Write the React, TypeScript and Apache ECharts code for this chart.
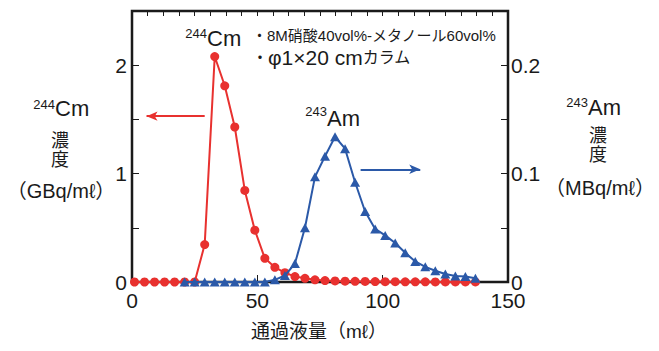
import React, { useEffect, useRef } from "react";
import * as echarts from "echarts";

// 通過液量 (mℓ)
const volume = [1, 5, 9, 13, 17, 21, 25, 29, 33, 37, 41, 45, 49, 53, 57, 61, 65, 69, 73, 77, 81, 85, 89, 93, 97, 101, 105, 109, 113, 117, 121, 125, 129, 133, 137];
// 244Cm 濃度 (GBq/mℓ)
const cm244 = [0, 0, 0, 0, 0, 0, 0, 0.345, 2.08, 1.81, 1.43, 0.845, 0.478, 0.218, 0.135, 0.086, 0.05, 0.034, 0.02, 0.013, 0.01, 0.008, 0.006, 0.005, 0.004, 0.003, 0.003, 0.002, 0.002, 0.002, 0.001, 0.001, 0.001, 0.001, 0.001];
// 243Am 濃度 (MBq/mℓ)
const am243 = [null, null, null, null, null, 0, 0, 0, 0, 0, 0, 0, 0, 0, 0.002, 0.006, 0.017, 0.05, 0.097, 0.116, 0.134, 0.123, 0.092, 0.065, 0.049, 0.043, 0.036, 0.027, 0.019, 0.014, 0.0104, 0.0074, 0.0055, 0.005, 0.0035];

const xTicks = { min: 0, max: 150, interval: 50 };
const leftTicks = { min: 0, max: 2.5, interval: 0.5 };
const rightTicks = { min: 0, max: 0.25, interval: 0.05 };

const RED = "#e8312f";
const BLUE = "#2b59a8";
const INK = "#1a1a1a";
const LATIN = "'Liberation Sans', Arial, 'Noto Sans CJK JP', sans-serif";
const JP = "'Liberation Sans', 'Noto Sans CJK JP', sans-serif";

const GRID = { left: 132, right: 151, top: 11, bottom: 69 };
const W = 659;
const H = 351;

export default function App() {
  const ref = useRef<HTMLDivElement>(null);
  useEffect(() => {
    if (!ref.current) return;
    const chart = echarts.init(ref.current, undefined, { renderer: "svg" });
    const red = volume.map((v, i) => [v, cm244[i]]);
    const blue = volume.map((v, i) => [v, am243[i]]).filter((p) => p[1] !== null);

    const txt = (text: string, x: number, y: number, size: number, align: string, family = LATIN) => ({
      type: "text",
      x,
      y,
      style: { text, fontSize: size, fontFamily: family, fill: INK, textAlign: align, textVerticalAlign: "middle" },
      silent: true,
    });

    const line = () => ({ show: true, onZero: false, lineStyle: { color: INK, width: 2 } });
    const tick = (len: number) => ({ show: true, inside: true, length: len, lineStyle: { color: INK, width: 1 } });

    chart.setOption({
      animation: false,
      grid: { ...GRID, containLabel: false },
      xAxis: [
        {
          type: "value",
          position: "bottom",
          min: xTicks.min,
          max: xTicks.max,
          interval: xTicks.interval,
          axisLine: line(),
          axisTick: tick(7),
          axisLabel: { fontSize: 21, color: INK, fontFamily: LATIN, margin: 8 },
          splitLine: { show: false },
        },
        {
          type: "value",
          position: "top",
          min: 0,
          max: 150,
          interval: 6.25,
          axisLine: line(),
          axisTick: tick(5),
          axisLabel: { show: false },
          splitLine: { show: false },
        },
      ],
      yAxis: [
        {
          type: "value",
          position: "left",
          min: leftTicks.min,
          max: leftTicks.max,
          interval: leftTicks.interval,
          axisLine: line(),
          axisTick: tick(7),
          axisLabel: {
            fontSize: 21,
            color: INK,
            fontFamily: LATIN,
            margin: 5,
            formatter: (v: number) => (Math.abs(v - Math.round(v)) < 1e-9 ? String(Math.round(v)) : ""),
          },
          splitLine: { show: false },
        },
        {
          type: "value",
          position: "right",
          min: rightTicks.min,
          max: rightTicks.max,
          interval: rightTicks.interval,
          axisLine: line(),
          axisTick: tick(7),
          axisLabel: {
            fontSize: 21,
            color: INK,
            fontFamily: LATIN,
            margin: 3,
            formatter: (v: number) => {
              const t = v * 10;
              if (Math.abs(t - Math.round(t)) > 1e-9) return "";
              return v === 0 ? "0" : v.toFixed(1);
            },
          },
          splitLine: { show: false },
        },
      ],
      series: [
        {
          type: "line",
          xAxisIndex: 0,
          yAxisIndex: 0,
          data: red,
          symbol: "circle",
          symbolSize: 9,
          lineStyle: { color: RED, width: 2 },
          itemStyle: { color: RED },
          z: 2,
          markLine: {
            silent: true,
            symbol: ["none", "arrow"],
            symbolSize: [7, 11],
            label: { show: false },
            lineStyle: { color: RED, width: 2, type: "solid" },
            data: [[{ coord: [29, 1.53] }, { coord: [5.8, 1.53] }]],
          },
        },
        {
          type: "line",
          xAxisIndex: 0,
          yAxisIndex: 1,
          data: blue,
          symbol: "triangle",
          symbolSize: [10, 9],
          lineStyle: { color: BLUE, width: 2 },
          itemStyle: { color: BLUE },
          z: 3,
          markLine: {
            silent: true,
            symbol: ["none", "arrow"],
            symbolSize: [7, 11],
            label: { show: false },
            lineStyle: { color: BLUE, width: 2, type: "solid" },
            data: [[{ coord: [91.2, 0.104] }, { coord: [115, 0.104] }]],
          },
        },
      ],
      graphic: [
        // plot frame
        {
          type: "rect",
          silent: true,
          z: -1,
          shape: {
            x: GRID.left,
            y: GRID.top,
            width: W - GRID.left - GRID.right,
            height: H - GRID.top - GRID.bottom,
          },
          style: { fill: "none", stroke: "#111111", lineWidth: 2.5 },
        },
        // in-plot labels
        txt("244", 207, 33, 13, "right"),
        txt("Cm", 207, 38.5, 22, "left"),
        txt("243", 327, 111, 13, "right"),
        txt("Am", 327, 118.5, 22, "left"),
        // conditions
        {
          type: "text",
          x: 252,
          y: 35,
          style: {
            text: "・8M硝酸40vol%-メタノール60vol%",
            fontSize: 15,
            fontFamily: JP,
            fill: INK,
            textAlign: "left",
            textVerticalAlign: "middle",
          },
        },
        {
          type: "text",
          x: 252,
          y: 57,
          style: {
            text: "{a|・}{b|φ1×20 cm}{a|カラム}",
            fontFamily: JP,
            fill: INK,
            textAlign: "left",
            textVerticalAlign: "middle",
            rich: {
              a: { fontSize: 16, fontFamily: JP, fill: INK },
              b: { fontSize: 21, fontFamily: JP, fill: INK },
            },
          },
        },
        // left axis title
        txt("244", 55, 104, 13, "right"),
        txt("Cm", 55, 108.5, 22, "left"),
        txt("濃", 60, 141, 18, "center", JP),
        txt("度", 60, 160, 18, "center", JP),
        txt("（GBq/mℓ）", 61, 191, 20, "center", JP),
        // right axis title
        txt("243", 588, 102.5, 13, "right"),
        txt("Am", 588, 107.5, 22, "left"),
        txt("濃", 598, 136, 18, "center", JP),
        txt("度", 598, 155, 18, "center", JP),
        txt("（MBq/mℓ）", 600, 188, 20, "center", JP),
        // x axis title
        txt("通過液量（mℓ）", 319, 331, 19, "center", JP),
      ],
    });
    return () => chart.dispose();
  }, []);
  return <div ref={ref} style={{ width: W, height: H, position: "absolute", left: 0, top: 0, background: "#fff" }} />;
}
